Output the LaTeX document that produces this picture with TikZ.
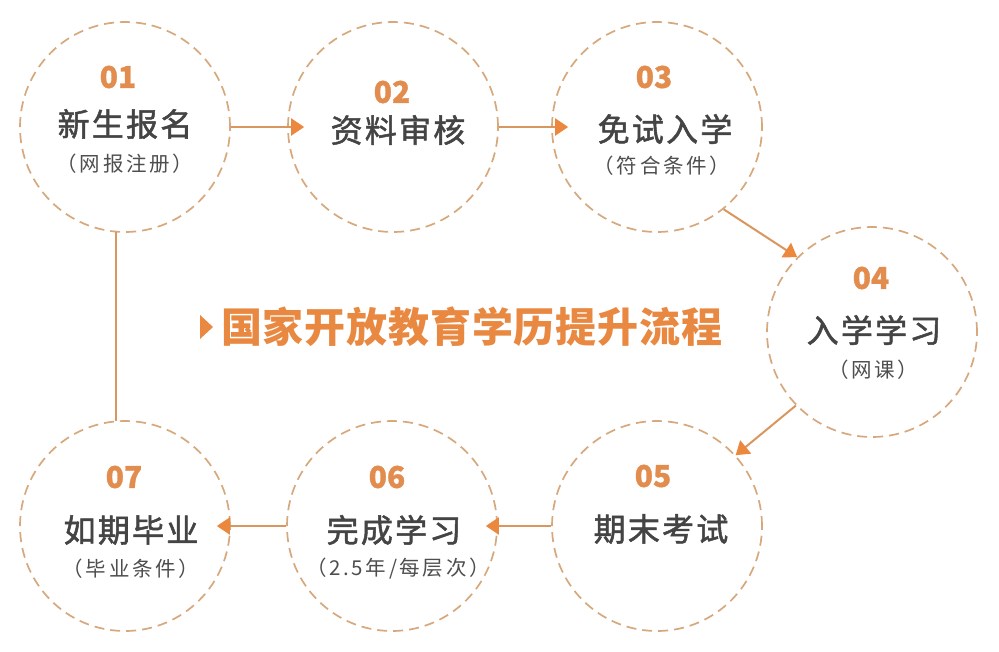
\documentclass[tikz,border=0pt]{standalone}
\usepackage{fontspec}
\usetikzlibrary{arrows.meta}
\newfontfamily\cjk{Noto Sans CJK SC}
\newfontfamily\cjknum{Noto Sans CJK SC}[FakeBold=1]
\newfontfamily\cjkmain{Noto Sans CJK SC}[FakeBold=1.6, LetterSpace=7]
\newfontfamily\cjksub{Noto Sans CJK SC}[LetterSpace=13]
\newfontfamily\cjktitle{Noto Sans CJK SC}[LetterSpace=2]
\definecolor{circc}{RGB}{214,168,124}
\definecolor{linec}{RGB}{218,150,95}
\definecolor{arrc}{RGB}{236,136,62}
\definecolor{numc}{RGB}{226,140,78}
\definecolor{titc}{RGB}{233,137,65}
\definecolor{darkc}{RGB}{68,68,68}
\definecolor{subc}{RGB}{78,78,78}
\tikzset{
  stepcirc/.style={circle, draw=circc, line width=1.7pt, dash pattern=on 10pt off 6pt, minimum size=210pt, inner sep=0pt},
  numtxt/.style={text=numc, font=\cjknum\bfseries\fontsize{30pt}{30pt}\selectfont, inner sep=0pt},
  maintxt/.style={text=darkc, font=\cjkmain\fontsize{32pt}{32pt}\selectfont, inner sep=0pt},
  subtxt/.style={text=subc, font=\cjksub\fontsize{20.5pt}{20.5pt}\selectfont, inner sep=0pt},
  conn/.style={draw=linec, line width=2pt, -{Triangle[length=13pt,width=17pt,color=arrc]}},
  plainconn/.style={draw=linec, line width=2pt}
}
\begin{document}
\begin{tikzpicture}[x=1pt,y=-1pt]
\useasboundingbox (0,0) rectangle (999,651);
\fill[white] (0,0) rectangle (999,651);
% circles
\node[stepcirc] (c1) at (125,127) {};
\node[stepcirc] (c2) at (393,127) {};
\node[stepcirc] (c3) at (657,127) {};
\node[stepcirc] (c4) at (872,332) {};
\node[stepcirc] (c5) at (657,526) {};
\node[stepcirc] (c6) at (392,526) {};
\node[stepcirc] (c7) at (125,526) {};
% texts
\node[numtxt] (n1) at (118,77) {01};
\node[maintxt] (m1) at (125,124) {新生报名};
\node[subtxt] (s1) at (125,164) {（网报注册）};
\node[numtxt] (n2) at (392,92) {02};
\node[maintxt] (m2) at (398,130) {资料审核};
\node[numtxt] (n3) at (654,77) {03};
\node[maintxt] (m3) at (665,129) {免试入学};
\node[subtxt] (s3) at (662,166) {（符合条件）};
\node[numtxt] (n4) at (871,278) {04};
\node[maintxt] (m4) at (874,330) {入学学习};
\node[subtxt] (s4) at (873,370) {（网课）};
\node[numtxt] (n5) at (653,476) {05};
\node[maintxt] (m5) at (661,529) {期末考试};
\node[numtxt] (n6) at (387,477) {06};
\node[maintxt] (m6) at (394,530) {完成学习};
\node[subtxt] (s6) at (398,569) {（2.5年/每层次）};
\node[numtxt] (n7) at (124,477) {07};
\node[maintxt] (m7) at (131,530) {如期毕业};
\node[subtxt] (s7) at (131,569) {（毕业条件）};
% title
\fill[titc] (200,315) -- (213,327) -- (200,339) -- cycle;
\node[anchor=west, text=titc, font=\cjktitle\bfseries\fontsize{41pt}{41pt}\selectfont, inner sep=0pt] (title) at (221,327) {国家开放教育学历提升流程};
% connectors
\draw[conn, shorten >=-17pt] (c1.east) -- (c2.west);
\draw[conn, shorten >=-17pt] (c2.east) -- (c3.west);
\draw[conn] (c3.-51) -- (c4.135);
\draw[conn] (c4.224) -- (c5.42);
\draw[conn, shorten >=-12pt] (c5.west) -- (c6.east);
\draw[conn, shorten >=-14pt] (c6.west) -- (c7.east);
\draw[plainconn] (c7.95) -- (c1.265);
\end{tikzpicture}
\end{document}
